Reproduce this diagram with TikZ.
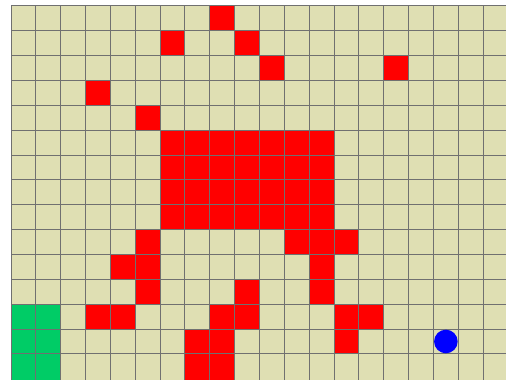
\documentclass[tikz,border=0pt]{standalone}
\definecolor{bgcol}{RGB}{223,223,179}
\definecolor{gridcol}{RGB}{112,112,112}
\definecolor{goalcol}{RGB}{0,204,102}
\definecolor{wallcol}{RGB}{255,0,0}
\definecolor{agentcol}{RGB}{0,0,255}
\tikzset{
  wall/.style={fill=wallcol},
  goal/.style={fill=goalcol},
  gridlines/.style={draw=gridcol, line width=1pt},
}
\begin{document}
\begin{tikzpicture}[x=24.85pt,y=-24.85pt]
\useasboundingbox (-0.4427,-0.2414) rectangle (19.9195,15.0103);
\clip (-0.4427,-0.2414) rectangle (19.9195,15.0103);
\fill[white] (-0.4427,-0.2414) rectangle (19.9195,15.0103);
\fill[bgcol] (0,0) rectangle (20,15.2);
% goal
\foreach \r in {12,13,14}{
  \foreach \c in {0,1}{
    \fill[goal] (\c,\r) rectangle ++(1,1.2);
  }
}
% walls
\foreach \c/\r in {8/0,6/1,9/1,10/2,15/2,3/3,5/4,
  5/9,11/9,12/9,13/9,4/10,5/10,12/10,5/11,9/11,12/11,
  3/12,4/12,8/12,9/12,13/12,14/12,7/13,8/13,13/13}{
  \fill[wall] (\c,\r) rectangle ++(1,1);
}
\fill[wall] (7,14) rectangle (9,15.2);
\fill[wall] (6,5) rectangle (13,9);
% grid
\foreach \c in {0,...,19}{
  \draw[gridlines] (\c,0) -- (\c,15.2);
}
\foreach \r in {0,...,14}{
  \draw[gridlines] (0,\r) -- (20,\r);
}
% agent
\fill[agentcol] (17.5,13.5) circle[radius=0.475];
\end{tikzpicture}
\end{document}
